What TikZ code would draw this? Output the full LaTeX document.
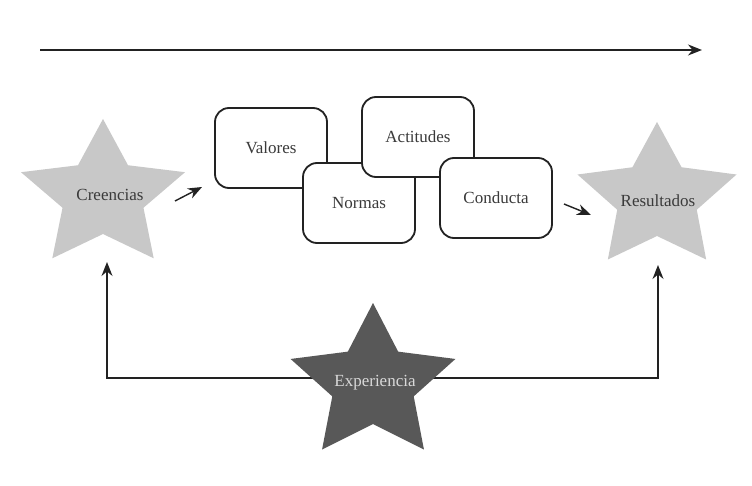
\documentclass[tikz,border=0pt]{standalone}
\usepackage{fontspec}
\setmainfont{Liberation Serif}
\usetikzlibrary{arrows.meta}
\definecolor{lightstar}{HTML}{C8C8C8}
\definecolor{darkstar}{HTML}{585858}
\definecolor{labelgray}{HTML}{3A3A3A}
\definecolor{edgegray}{HTML}{222222}
\tikzset{
  conceptbox/.style={draw=edgegray, line width=1.8pt, rounded corners=14pt,
    fill=white, minimum width=112pt, minimum height=80pt,
    font=\fontsize{17}{20}\selectfont, text=labelgray},
  starlabel/.style={font=\fontsize{17}{20}\selectfont, text=labelgray},
  link/.style={draw=edgegray, line width=1.4pt, -{Stealth[length=14pt,width=11pt]}},
}
% five-pointed star: centre, outer radius, inner radius, horizontal stretch, fill colour
\newcommand{\fivestar}[6]{%
  \fill[#6] plot[samples at={0,...,10}]
    ({#1 + #5*(mod(\x,2)==0 ? #3 : #4)*cos(270+36*\x)},
     {#2 + (mod(\x,2)==0 ? #3 : #4)*sin(270+36*\x)}) -- cycle;}
\begin{document}
\begin{tikzpicture}[x=1pt, y=-1pt]
\useasboundingbox (0,0) rectangle (752,486);
\fill[white] (0,0) rectangle (752,486);

% time axis along the top
\coordinate (axisL) at (40,50);
\coordinate (axisR) at (702,50);
\draw[link, line width=1.6pt] (axisL) -- (axisR);

% feedback lines from experience
\coordinate (crefoot) at (107,262);
\coordinate (resfoot) at (658,265);
\coordinate (expmid) at (373,378);
\draw[link] (expmid) -| (crefoot);
\draw[link] (expmid) -| (resfoot);

% stars
\fivestar{103}{196}{77}{38}{1.12}{lightstar}
\fivestar{657}{198}{76}{38}{1.1}{lightstar}
\fivestar{373}{384}{81}{40}{1.07}{darkstar}

\node[starlabel] (cre) at (110,195) {Creencias};
\node[starlabel] (res) at (658,201) {Resultados};
\node[starlabel, text=white!85!black] (exp) at (375,383) {Experiencia};

% concept boxes, back to front
\node[conceptbox] (val) at (271,148) {Valores};
\node[conceptbox] (nor) at (359,203) {Normas};
\node[conceptbox] (act) at (418,137) {Actitudes};
\node[conceptbox] (con) at (496,198) {Conducta};

% short arrows into and out of the boxes
\coordinate (inS) at (175,201);
\coordinate (inE) at (202,187);
\coordinate (outS) at (564,204);
\coordinate (outE) at (591,215);
\draw[link] (inS) -- (inE);
\draw[link] (outS) -- (outE);
\end{tikzpicture}
\end{document}
